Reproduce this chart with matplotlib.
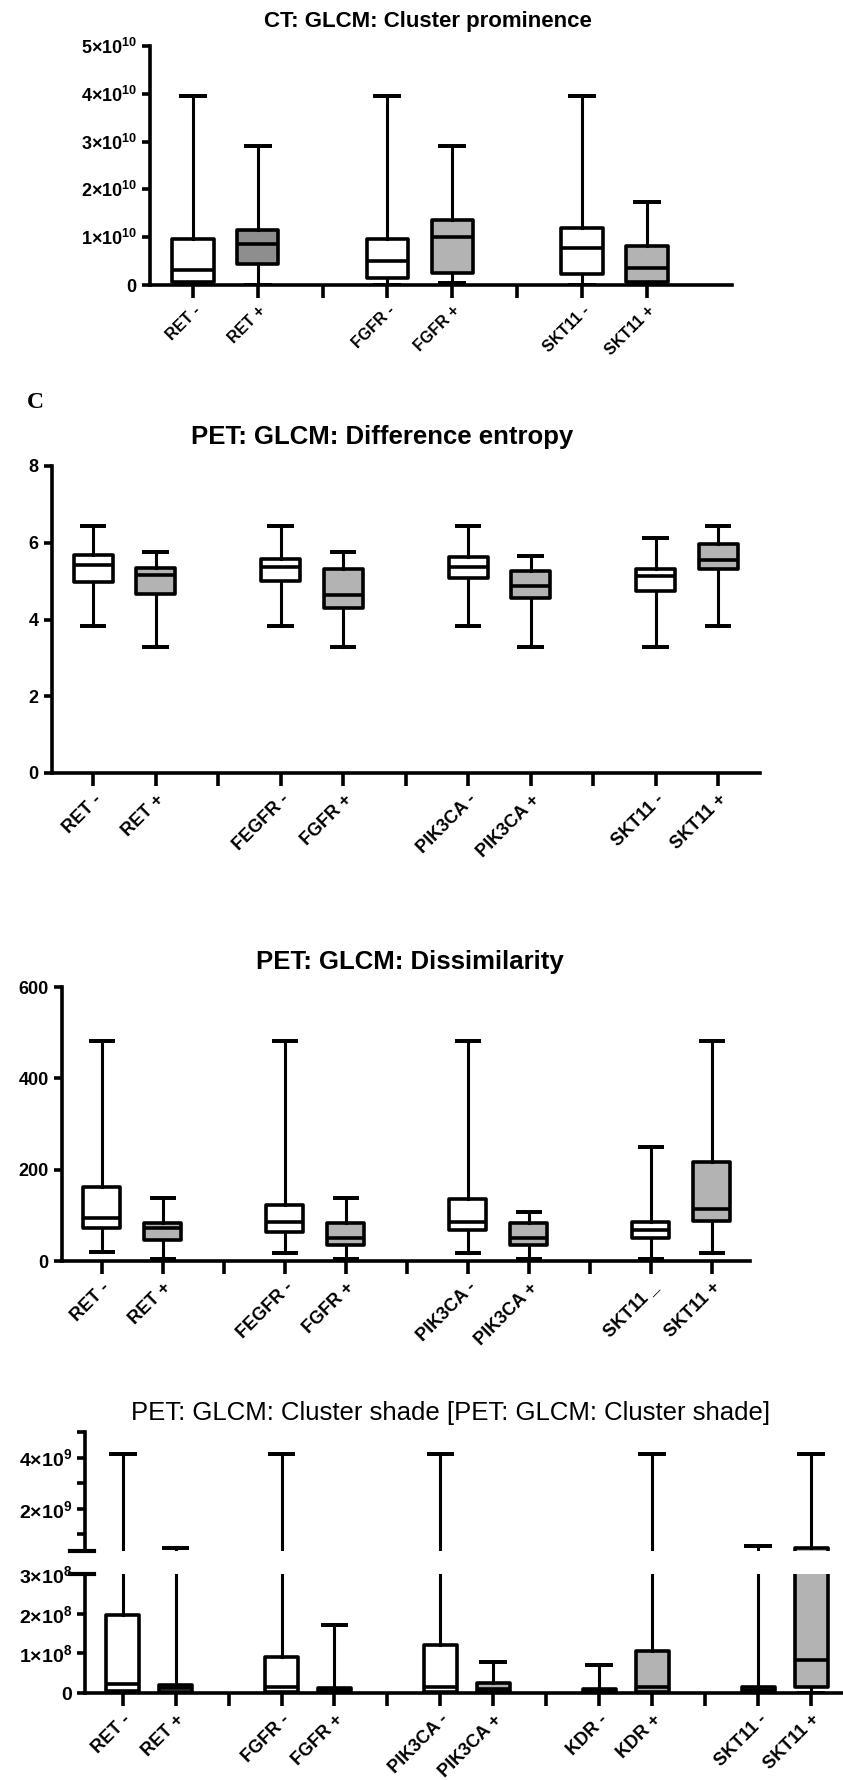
import matplotlib
matplotlib.use("Agg")
import matplotlib.pyplot as plt

plt.rcParams['font.family'] = ['Liberation Sans', 'DejaVu Sans']
plt.rcParams['font.weight'] = 'bold'
plt.rcParams['mathtext.fontset'] = 'custom'
plt.rcParams['mathtext.rm'] = 'Liberation Sans'
plt.rcParams['mathtext.bf'] = 'Liberation Sans:bold'

# ---- panel 1: CT cluster prominence (units of 1e10) ----
ct_labels = ["RET -", "RET +", "FGFR -", "FGFR +", "SKT11 -", "SKT11 +"]
ct_lo = [0.0, 0.0, 0.0, 0.05, 0.0, 0.0]
ct_q1 = [0.06, 0.44, 0.15, 0.25, 0.23, 0.06]
ct_med = [0.31, 0.86, 0.50, 1.00, 0.77, 0.36]
ct_q3 = [0.97, 1.15, 0.97, 1.37, 1.20, 0.82]
ct_hi = [3.95, 2.90, 3.95, 2.90, 3.95, 1.74]

# ---- panel 2: PET difference entropy ----
de_labels = ["RET -", "RET +", "FEGFR -", "FGFR +", "PIK3CA -", "PIK3CA +", "SKT11 -", "SKT11 +"]
de_lo = [3.82, 3.29, 3.83, 3.29, 3.83, 3.29, 3.29, 3.82]
de_q1 = [4.97, 4.66, 5.00, 4.30, 5.08, 4.56, 4.74, 5.32]
de_med = [5.42, 5.16, 5.36, 4.63, 5.37, 4.87, 5.13, 5.55]
de_q3 = [5.68, 5.34, 5.58, 5.31, 5.63, 5.27, 5.32, 5.96]
de_hi = [6.43, 5.76, 6.43, 5.76, 6.43, 5.65, 6.12, 6.43]

# ---- panel 3: PET dissimilarity ----
ds_labels = ["RET -", "RET +", "FEGFR -", "FGFR +", "PIK3CA -", "PIK3CA +", "SKT11 _", "SKT11 +"]
ds_lo = [19, 5, 17, 5, 17, 5, 5, 17]
ds_q1 = [72, 46, 64, 36, 68, 36, 50, 88]
ds_med = [95, 72, 86, 51, 86, 50, 68, 114]
ds_q3 = [163, 83, 122, 83, 136, 83, 85, 217]
ds_hi = [482, 139, 482, 139, 482, 108, 249, 482]

# ---- panel 4: PET cluster shade (units of 1e8) ----
cs_labels = ["RET -", "RET +", "FGFR -", "FGFR +", "PIK3CA -", "PIK3CA +",
             "KDR -", "KDR +", "SKT11 -", "SKT11 +"]
cs_lo = [0, 0, 0, 0, 0, 0, 0, 0, 0, 0]
cs_q1 = [0.05, 0.03, 0.03, 0.02, 0.03, 0.03, 0.01, 0.03, 0.02, 0.16]
cs_med = [0.22, 0.12, 0.15, 0.08, 0.15, 0.10, 0.05, 0.15, 0.08, 0.83]
cs_q3 = [1.97, 0.20, 0.92, 0.13, 1.22, 0.24, 0.10, 1.07, 0.15, 4.5]
cs_hi = [41.5, 4.7, 41.5, 1.71, 41.5, 0.77, 0.70, 41.5, 5.5, 41.5]

W, H = 843, 1780
fig = plt.figure(figsize=(W / 100, H / 100), dpi=100)


def px_axes(left, right, top, bottom):
    return fig.add_axes([left / W, 1 - bottom / H, (right - left) / W, (bottom - top) / H])


def fills_for(labels, dark=None):
    cols = []
    for lab in labels:
        if lab.endswith('+'):
            cols.append(dark if (dark and lab.startswith('RET')) else '#b3b3b3')
        else:
            cols.append('white')
    return cols


def draw_boxes(ax, labels, lo, q1, med, q3, hi, fills, scale=1.0, width=0.62, capw=0.36, lw=2.6):
    pos = [i + i // 2 for i in range(len(labels))]
    stats = []
    for i in range(len(labels)):
        stats.append(dict(whislo=lo[i] * scale, q1=q1[i] * scale, med=med[i] * scale,
                          q3=q3[i] * scale, whishi=hi[i] * scale, fliers=[]))
    bp = ax.bxp(stats, positions=pos, widths=width, capwidths=capw, showfliers=False,
                patch_artist=True,
                boxprops=dict(linewidth=lw, edgecolor='black', joinstyle='round'),
                medianprops=dict(color='black', linewidth=lw),
                whiskerprops=dict(color='black', linewidth=lw * 0.85),
                capprops=dict(color='black', linewidth=lw * 1.1))
    for patch, c in zip(bp['boxes'], fills):
        patch.set_facecolor(c)
    return pos


def style_axes(ax, labels, pos, xmin, xmax, fs, bottom=True):
    for s in ['top', 'right']:
        ax.spines[s].set_visible(False)
    ax.spines['left'].set_linewidth(2.6)
    ax.spines['bottom'].set_linewidth(2.6)
    ax.set_xlim(xmin, xmax)
    ax.tick_params(axis='both', width=2.6, length=6, direction='out')
    if bottom:
        ticks = list(range(pos[-1] + 1))
        names = [''] * len(ticks)
        for p, lab in zip(pos, labels):
            names[p] = lab
        ax.set_xticks(ticks)
        ax.set_xticklabels(names, rotation=45, ha='right', va='top',
                           rotation_mode='anchor', fontsize=fs, fontweight='bold')
        ax.tick_params(axis='x', length=9, pad=4)


# panel 1
ax1 = px_axes(150, 732, 46, 285)
p = draw_boxes(ax1, ct_labels, ct_lo, ct_q1, ct_med, ct_q3, ct_hi,
               fills_for(ct_labels, dark='#8e8e8e'), scale=1e10, width=0.64, capw=0.37)
style_axes(ax1, ct_labels, p, -0.66, 8.31, 11.5)
ax1.set_ylim(0, 5e10)
ax1.set_yticks([0, 1e10, 2e10, 3e10, 4e10, 5e10],
               ['0'] + [r'$\mathbf{%d{\times}10^{10}}$' % k for k in range(1, 6)])
ax1.tick_params(axis='y', labelsize=13)
fig.text(428 / W, 1 - 22 / H, "CT: GLCM: Cluster prominence", ha='center', va='center',
         fontsize=16, fontweight='bold')

# panel 2
fig.text(35 / W, 1 - 402 / H, "C", ha='center', va='center', fontsize=17,
         fontweight='bold', family='Liberation Serif')
ax2 = px_axes(52, 760, 466, 773)
p = draw_boxes(ax2, de_labels, de_lo, de_q1, de_med, de_q3, de_hi, fills_for(de_labels))
style_axes(ax2, de_labels, p, -0.66, 10.67, 13)
ax2.set_ylim(0, 8)
ax2.set_yticks([0, 2, 4, 6, 8])
ax2.tick_params(axis='y', labelsize=13)
fig.text(382 / W, 1 - 437 / H, "PET: GLCM: Difference entropy", ha='center', va='center',
         fontsize=18.5, fontweight='bold')

# panel 3
ax3 = px_axes(62, 750, 987, 1261)
p = draw_boxes(ax3, ds_labels, ds_lo, ds_q1, ds_med, ds_q3, ds_hi, fills_for(ds_labels), width=0.6)
style_axes(ax3, ds_labels, p, -0.65, 10.63, 13)
ax3.set_ylim(0, 600)
ax3.set_yticks([0, 200, 400, 600])
ax3.tick_params(axis='y', labelsize=13)
fig.text(410 / W, 1 - 962 / H, "PET: GLCM: Dissimilarity", ha='center', va='center',
         fontsize=18.5, fontweight='bold')

# panel 4 (broken y axis)
ax4u = px_axes(85, 843, 1432, 1551)
ax4l = px_axes(85, 843, 1574, 1693)
for a in (ax4u, ax4l):
    p = draw_boxes(a, cs_labels, cs_lo, cs_q1, cs_med, cs_q3, cs_hi, fills_for(cs_labels),
                   scale=1e8, width=0.62, capw=0.45)
style_axes(ax4l, cs_labels, p, -0.71, 13.6, 13)
style_axes(ax4u, cs_labels, p, -0.71, 13.6, 13, bottom=False)
ax4u.spines['bottom'].set_visible(False)
ax4u.set_xticks([])
ax4u.set_ylim(3.5e8, 5e9)
ax4u.set_yticks([2e9, 4e9], [r'$\mathbf{2{\times}10^{9}}$', r'$\mathbf{4{\times}10^{9}}$'])
ax4u.set_yticks([1e9, 3e9, 5e9], minor=True)
ax4u.tick_params(axis='y', which='minor', width=2.6, length=6)
ax4u.tick_params(axis='y', labelsize=14)
ax4u.axhline(3.5e8, xmin=-0.02, xmax=0.012, color='black', linewidth=3, clip_on=False)
ax4l.set_ylim(0, 3e8)
ax4l.set_yticks([0, 1e8, 2e8, 3e8], ['0', r'$\mathbf{1{\times}10^{8}}$',
                                    r'$\mathbf{2{\times}10^{8}}$', r'$\mathbf{3{\times}10^{8}}$'])
ax4l.tick_params(axis='y', labelsize=14)
ax4l.axhline(3e8, xmin=-0.02, xmax=0.012, color='black', linewidth=3, clip_on=False)
fig.text(451 / W, 1 - 1413 / H, "PET: GLCM: Cluster shade [PET: GLCM: Cluster shade]",
         ha='center', va='center', fontsize=18.5, fontweight='normal')

fig.savefig("out.png", dpi=100)
